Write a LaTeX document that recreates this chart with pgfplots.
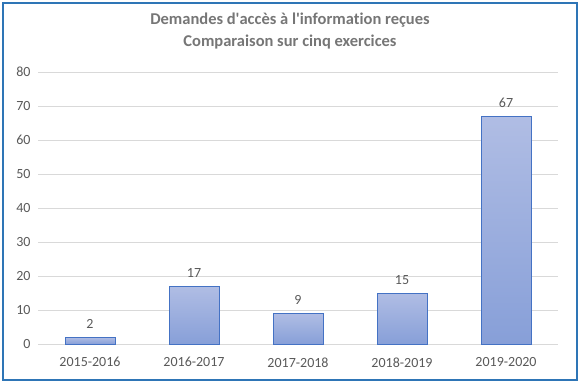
\documentclass[border=0pt]{standalone}
\usepackage{pgfplots}
\pgfplotsset{compat=1.18}
\usepackage{fontspec}
\setmainfont{Carlito}[Ligatures={TeX,NoCommon}]
\definecolor{ttl}{HTML}{767676}
\definecolor{tck}{HTML}{595959}
\definecolor{grd}{HTML}{D9D9D9}
\definecolor{brd}{HTML}{2E75B6}
\definecolor{barline}{HTML}{4472C4}
\definecolor{bartop}{HTML}{B0BDE4}
\definecolor{barbot}{HTML}{879FD8}
\begin{document}
\begin{tikzpicture}[x=1pt,y=1pt]
\path[use as bounding box] (-38,-42) rectangle (542,344);
\draw[brd,line width=2pt] (-35,-36) rectangle (539,341);
\node[font=\fontsize{16.5}{22}\selectfont\bfseries,text=ttl,align=center] at (252,313) {Demandes d\textquotesingle accès à l\textquotesingle information reçues\\Comparaison sur cinq exercices};
\begin{axis}[
  at={(0,0)},anchor=south west,
  scale only axis, width=520pt, height=272pt,
  xmin=-0.5, xmax=4.5, ymin=0, ymax=80,
  ytick={0,10,...,80},
  xtick={0,1,2,3,4},
  xticklabels={2015-2016,2016-2017,2017-2018,2018-2019,2019-2020},
  ymajorgrids, grid style={grd,line width=0.8pt},
  axis line style={draw=none},
  major tick length=0pt,
  tick label style={font=\fontsize{14}{16}\selectfont,text=tck},
  /pgf/number format/assume math mode=true,
  yticklabel style={xshift=-4pt},
  xticklabel style={yshift=-10pt},
  ybar, bar width=50pt, bar shift=0pt,
  nodes near coords,
  every node near coord/.append style={font=\fontsize{14}{16}\selectfont,text=tck,yshift=5pt},
  clip=false,
]
\addplot[draw=barline,line width=0.8pt,top color=bartop,bottom color=barbot] coordinates {(0,2)};
\addplot[draw=barline,line width=0.8pt,top color=bartop,bottom color=barbot] coordinates {(1,17)};
\addplot[draw=barline,line width=0.8pt,top color=bartop,bottom color=barbot] coordinates {(2,9)};
\addplot[draw=barline,line width=0.8pt,top color=bartop,bottom color=barbot] coordinates {(3,15)};
\addplot[draw=barline,line width=0.8pt,top color=bartop,bottom color=barbot] coordinates {(4,67)};
\end{axis}
\end{tikzpicture}
\end{document}
